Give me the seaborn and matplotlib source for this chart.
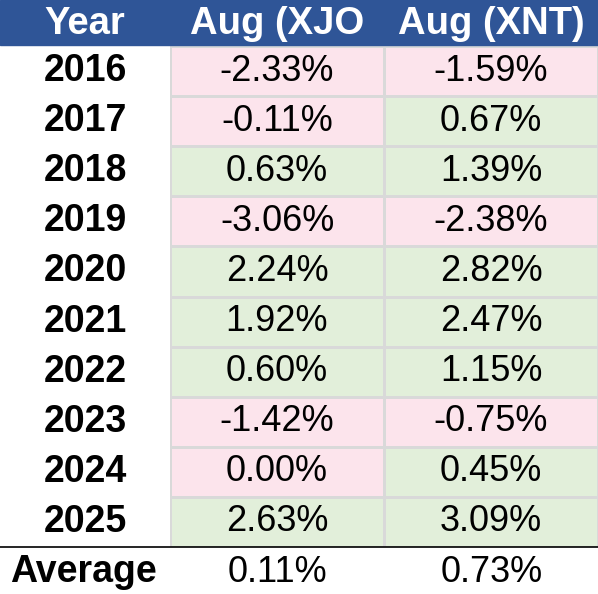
import numpy as np
import pandas as pd
import seaborn as sns
import matplotlib
matplotlib.use('Agg')
import matplotlib.pyplot as plt
from matplotlib.colors import ListedColormap
from matplotlib.patches import Rectangle

years = ['2016', '2017', '2018', '2019', '2020', '2021', '2022', '2023', '2024', '2025']
xjo = [-2.33, -0.11, 0.63, -3.06, 2.24, 1.92, 0.60, -1.42, 0.00, 2.63]
xnt = [-1.59, 0.67, 1.39, -2.38, 2.82, 2.47, 1.15, -0.75, 0.45, 3.09]
xjo_neg = [1, 1, 0, 1, 0, 0, 0, 1, 1, 0]  # 2024 0.00% shown pink
headers = ['Year', 'Aug (XJO', 'Aug (XNT)']
avg = [0.11, 0.73]

W, H = 598, 594
fig = plt.figure(figsize=(W / 100, H / 100), dpi=100)
plt.rcParams['font.family'] = ['Liberation Sans', 'DejaVu Sans']

def fx(x): return x / W
def fy(y): return 1 - y / H

head_h, row_h, col0 = 45, 50.1, 170
cols = [(0, 170), (170, 385), (385, 598)]

# header
fig.patches.append(Rectangle((0, fy(head_h)), 1, head_h / H, transform=fig.transFigure,
                             color='#2F5597', zorder=0))
for (a, b), t in zip(cols, headers):
    fig.text(fx((a + b) / 2), fy(head_h / 2 + 1), t, ha='center', va='center',
             color='white', fontsize=27.5, fontweight='bold')

# data block via heatmap
codes = pd.DataFrame({'xjo': xjo_neg, 'xnt': [1 if v < 0 else 0 for v in xnt]}, index=years)
top = head_h + 1
ax = fig.add_axes([fx(col0), fy(top + row_h * 10), 1 - fx(col0), row_h * 10 / H])
sns.heatmap(codes, ax=ax, cmap=ListedColormap(['#E2EFDA', '#FCE4EC']), vmin=0, vmax=1,
            cbar=False, linewidths=1.0, linecolor='#D9D9D9', xticklabels=False,
            yticklabels=False)
for i in range(len(years)):
    for j, vals in enumerate([xjo, xnt]):
        ax.text(j + 0.5, i + 0.5, f'{vals[i]:.2f}%', ha='center', va='center',
                fontsize=26, color='black')
    fig.text(fx(85), fy(top + row_h * (i + 0.5)), years[i], ha='center', va='center',
             fontsize=27, fontweight='bold')

# average row
ytop = top + row_h * 10
fig.add_artist(plt.Line2D([0, 1], [fy(ytop), fy(ytop)], color='black', lw=1.2))
fig.text(fx(83), fy(ytop + 25), 'Average', ha='center', va='center', fontsize=27,
         fontweight='bold')
for (a, b), v in zip(cols[1:], avg):
    fig.text(fx((a + b) / 2), fy(ytop + 25), f'{v:.2f}%', ha='center', va='center',
             fontsize=26)

fig.savefig('out.png', dpi=100)
